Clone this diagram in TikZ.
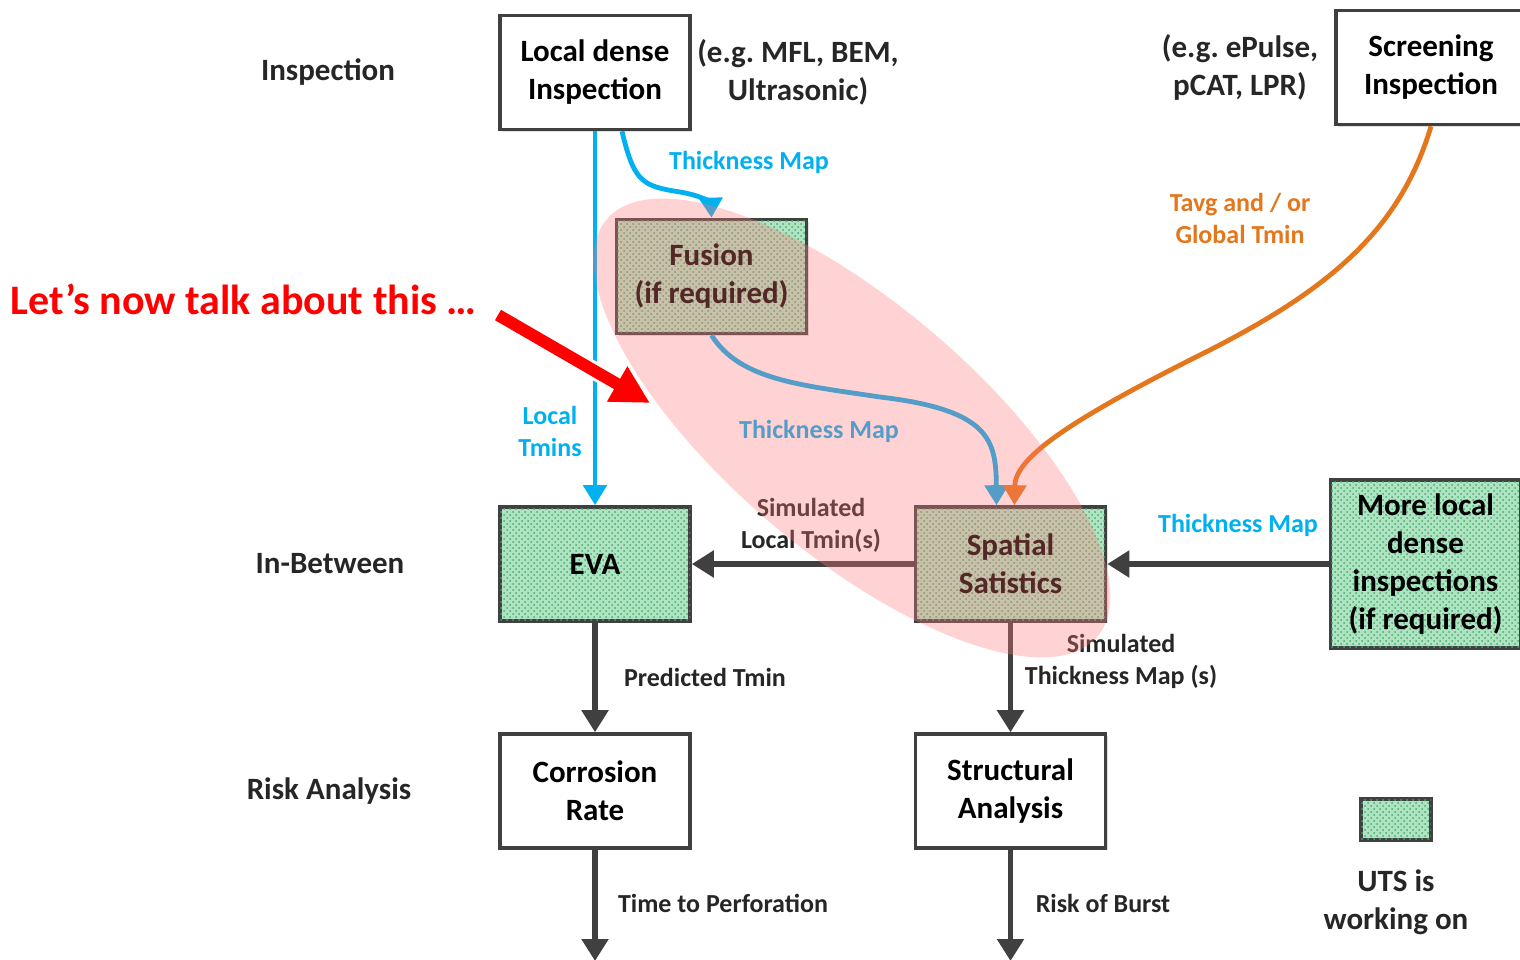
\documentclass[tikz,border=0pt]{standalone}
\usepackage{fontspec}
\setmainfont{Carlito}
\frenchspacing
\usetikzlibrary{arrows.meta,calc,patterns,shadows}

\definecolor{linegray}{RGB}{64,64,64}
\definecolor{mapblue}{RGB}{0,176,240}
\definecolor{tminorange}{RGB}{228,118,28}
\definecolor{utsgreen}{RGB}{175,228,195}
\definecolor{utsdot}{RGB}{70,170,110}
\definecolor{focuspink}{RGB}{255,120,120}
\definecolor{callred}{RGB}{255,0,0}

\newcommand\boxfont{\fontsize{15.5}{19}\selectfont\bfseries}
\newcommand\notefont{\fontsize{13}{16}\selectfont\bfseries}
\newcommand\callfont{\fontsize{21}{25}\selectfont\bfseries}

\tikzset{every picture/.style={line width=0.75pt}}
\tikzset{
  stagebox/.style={draw=linegray, line width=1.8pt, fill=white, align=center, font=\boxfont,
    minimum width=95pt, minimum height=57pt, inner sep=2pt,
    drop shadow={shadow xshift=1.2pt, shadow yshift=-1.2pt, opacity=0.25}},
  utsbox/.style={stagebox, fill=utsgreen, postaction={pattern=crosshatch dots, pattern color=utsdot}},
  grayflow/.style={draw=linegray, line width=2.6pt, -{Triangle[length=11pt,width=13pt]}},
  blueflow/.style={draw=mapblue, line width=2.4pt, -{Triangle[length=10pt,width=11.5pt]}},
  orangeflow/.style={draw=tminorange, line width=2.4pt, -{Triangle[length=10pt,width=11.5pt]}},
  rowlabel/.style={font=\boxfont, text=black!85, align=center},
  flowlabel/.style={font=\notefont, text=black!85, align=center, inner sep=0.75pt},
}

\begin{document}
\begin{tikzpicture}[x=0.5pt,y=0.5pt,yscale=-1,xscale=1]
\useasboundingbox (0,0) rectangle (1520,959);

%Row labels
\node [rowlabel] (rowinsp) at (328,72) {Inspection};
\node [rowlabel] (rowmid) at (330,564) {In-Between};
\node [rowlabel] (rowrisk) at (329,791) {Risk Analysis};

%Shape: Rectangle
\node [stagebox] (local) at (595,72.5) {Local dense\\Inspection};
\node [stagebox] (screen) at (1431,67.5) {Screening\\Inspection};
\node [utsbox] (fusion) at (711.5,276.5) {Fusion\\(if required)};
\node [utsbox] (eva) at (595,564) {EVA};
\node [utsbox] (spatial) at (1010.5,564) {Spatial\\Satistics};
\node [utsbox, minimum height=84pt] (more) at (1425.5,564) {More local\\dense\\inspections\\(if required)};
\node [stagebox] (corr) at (595,791) {Corrosion\\Rate};
\node [stagebox] (struct) at (1010.5,791) {Structural\\Analysis};
\node [utsbox, minimum width=35pt, minimum height=20.5pt, drop shadow={opacity=0}] (legend) at (1396,819.5) {};

% Text Node
\node [rowlabel] (egdense) at (798,72) {(e.g. MFL, BEM,\\Ultrasonic)};
\node [rowlabel] (egscreen) at (1240,67) {(e.g. ePulse,\\pCAT, LPR)};
\node [rowlabel] (legendtxt) at (1396,902) {UTS is\\working on};

%Straight Lines
\coordinate (corrend) at (595,961);
\coordinate (structend) at (1010.5,961);
\draw [blueflow] (local.south) -- (eva.north);
\draw [grayflow] (spatial.west) -- (eva.east);
\draw [grayflow] (more.west) -- (spatial.east);
\draw [grayflow] (eva.south) -- (corr.north);
\draw [grayflow] (spatial.south) -- (struct.north);
\draw [grayflow] (corr.south) -- (corrend);
\draw [grayflow] (struct.south) -- (structend);

%Curve Lines
\draw [blueflow] ($(local.south)+(27,0)$) .. controls (634,182) and (642,186) .. (680,192) .. controls (704,196) and (711,204) .. (fusion.north);
\draw [blueflow] (fusion.south) .. controls (740,380) and (800,385) .. (880,397) .. controls (990,410) and (996,440) .. ($(spatial.north)+(-14,0)$);
\draw [orangeflow] (screen.south) .. controls (1400,230) and (1330,290) .. (1200,355) .. controls (1060,425) and (1015,460) .. ($(spatial.north)+(4,0)$);

% Text Node
\node [flowlabel, text=mapblue] (tmap1) at (749,162) {Thickness Map};
\node [flowlabel, text=mapblue] (tmins) at (550,431) {Local\\Tmins};
\node [flowlabel, text=mapblue] (tmap2) at (819,431) {Thickness Map};
\node [flowlabel, text=tminorange] (tavg) at (1240,218) {Tavg and / or\\Global Tmin};
\node [flowlabel] (simlocal) at (811,525) {Simulated\\Local Tmin(s)};
\node [flowlabel, text=mapblue] (tmap3) at (1238,525) {Thickness Map};
\node [flowlabel] (predtmin) at (705,677) {Predicted Tmin};
\node [flowlabel] (simmap) at (1121,661) {Simulated\\Thickness Map (s)};
\node [flowlabel] (perf) at (723,903) {Time to Perforation};
\node [flowlabel] (burst) at (1103,903) {Risk of Burst};

%Shape: Ellipse
\fill [focuspink, fill opacity=0.33, rotate around={40.4:(852,428)}] (852,428) ellipse [x radius=322, y radius=125];

%Callout
\node [font=\callfont, text=callred, anchor=west, inner sep=0pt] (callout) at (10,299) {Let’s now talk about this …};
\coordinate (calltail) at (498,315);
\coordinate (calltip) at (650,403);
\draw [white, line width=9pt, -{Triangle[length=22pt,width=23pt]}] (calltail) -- ($(calltip)+(2,1)$);
\draw [callred, line width=6pt, -{Triangle[length=19pt,width=19pt]}] (calltail) -- (calltip);

\end{tikzpicture}
\end{document}
